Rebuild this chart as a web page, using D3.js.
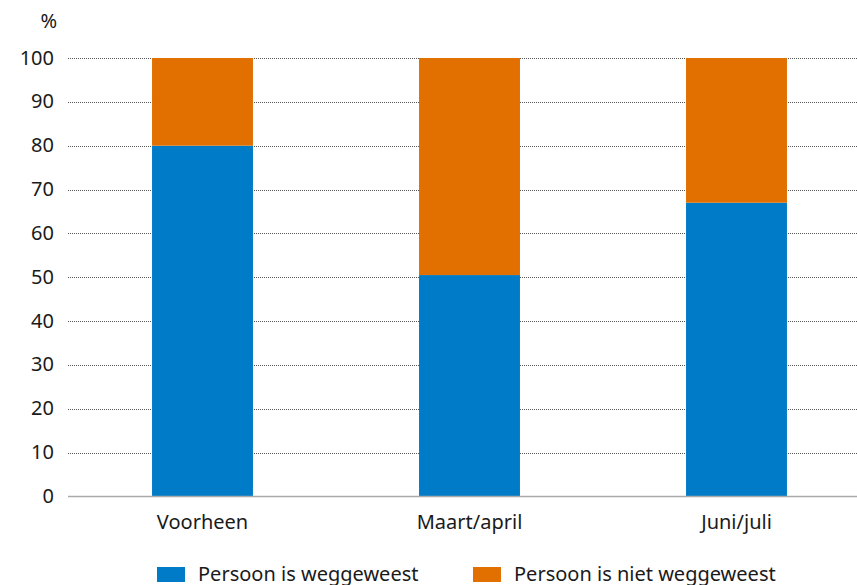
<!DOCTYPE html>
<html>
<head>
<meta charset="utf-8">
<script src="https://cdn.jsdelivr.net/npm/d3@7"></script>
<style>
  body { margin: 0; background: #fff; }
  svg text { font-family: "Noto Sans", sans-serif; fill: #1a1a1a; }
</style>
</head>
<body>
<div id="chart"></div>
<script>
var categories = ['Voorheen', 'Maart/april', 'Juni/juli'];
var weggeweest = [80, 50.5, 67];
var nietWeggeweest = [20, 49.5, 33];
var seriesNames = ['Persoon is weggeweest', 'Persoon is niet weggeweest'];
var yTicks = [0, 10, 20, 30, 40, 50, 60, 70, 80, 90, 100];

(function () {
  var colors = ['#007bc7', '#e17000'];
  var width = 857, height = 585;
  var plotLeft = 68, plotTop = 58, plotBottom = 496.5;

  var svg = d3.select('#chart').append('svg')
    .attr('width', width)
    .attr('height', height);

  var x = d3.scaleBand().domain(categories).range([69, 870])
    .paddingInner(0.622).paddingOuter(0.311);
  var y = d3.scaleLinear().domain([0, 100]).range([plotBottom, plotTop]);

  // dotted gridlines
  svg.append('g')
    .selectAll('line')
    .data(yTicks.filter(function (d) { return d > 0; }))
    .enter()
    .append('line')
    .attr('x1', plotLeft)
    .attr('x2', width)
    .attr('y1', function (d) { return Math.round(y(d)) + 0.5; })
    .attr('y2', function (d) { return Math.round(y(d)) + 0.5; })
    .attr('stroke', '#555')
    .attr('stroke-width', 1)
    .attr('stroke-dasharray', '1,1');

  // stacked bars
  var stackData = categories.map(function (c, i) {
    return { cat: c, a: weggeweest[i], b: nietWeggeweest[i] };
  });
  var stack = d3.stack().keys(['a', 'b'])(stackData);

  svg.append('g')
    .selectAll('g')
    .data(stack)
    .enter()
    .append('g')
    .attr('fill', function (d, i) { return colors[i]; })
    .selectAll('rect')
    .data(function (d) { return d; })
    .enter()
    .append('rect')
    .attr('x', function (d) { return x(d.data.cat); })
    .attr('width', x.bandwidth())
    .attr('y', function (d) { return y(d[1]); })
    .attr('height', function (d) { return y(d[0]) - y(d[1]); });

  // baseline
  svg.append('line')
    .attr('x1', plotLeft)
    .attr('x2', width)
    .attr('y1', plotBottom)
    .attr('y2', plotBottom)
    .attr('stroke', '#aaa')
    .attr('stroke-width', 1.5);

  // y axis labels
  svg.append('g')
    .attr('transform', 'translate(54,0)')
    .call(d3.axisLeft(y).tickValues(yTicks).tickSize(0).tickPadding(0))
    .call(function (g) { g.select('.domain').remove(); })
    .selectAll('text')
    .style('font-size', '20px')
    .attr('dy', '0.3em');

  svg.append('text')
    .attr('x', 57)
    .attr('y', 28)
    .attr('text-anchor', 'end')
    .style('font-size', '20px')
    .text('%');

  // x axis labels
  svg.append('g')
    .attr('transform', 'translate(0,' + plotBottom + ')')
    .call(d3.axisBottom(x).tickSize(0).tickPadding(0))
    .call(function (g) { g.select('.domain').remove(); })
    .selectAll('text')
    .style('font-size', '20px')
    .attr('y', 32)
    .attr('dy', 0);

  // legend
  var legendX = [157, 473];
  var legend = svg.append('g')
    .selectAll('g')
    .data(seriesNames)
    .enter()
    .append('g')
    .attr('transform', function (d, i) { return 'translate(' + legendX[i] + ',567)'; });

  legend.append('rect')
    .attr('width', 28)
    .attr('height', 15)
    .attr('fill', function (d, i) { return colors[i]; });

  legend.append('text')
    .attr('x', 41)
    .attr('y', 14)
    .style('font-size', '20px')
    .text(function (d) { return d; });
})();
</script>
</body>
</html>
